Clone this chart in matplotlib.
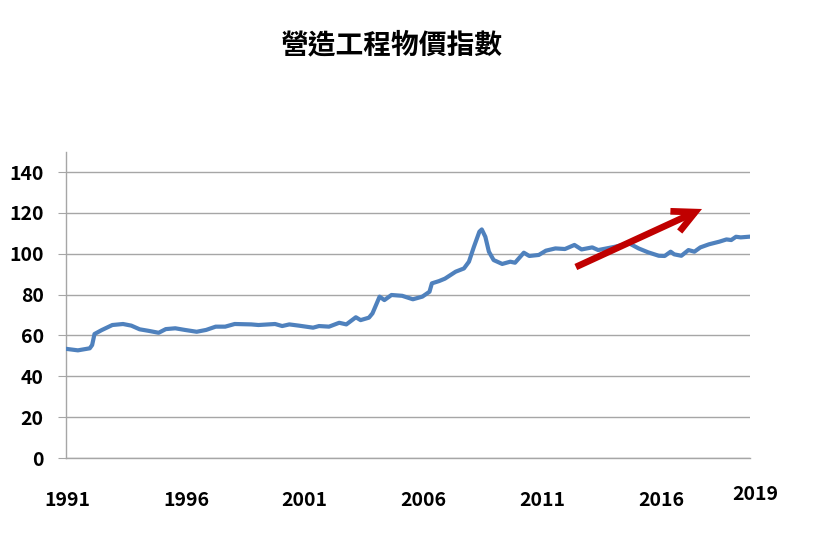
import matplotlib
matplotlib.use("Agg")
import matplotlib.pyplot as plt
import matplotlib.transforms as mtransforms

plt.rcParams['font.family'] = ['Noto Sans CJK TC', 'DejaVu Sans']

# 營造工程物價指數（讀圖估計值）
years = [1991.03, 1991.5, 1992.0, 1992.1, 1992.2, 1992.5, 1992.95, 1993.4, 1993.75,
         1994.1, 1994.5, 1994.9, 1995.2, 1995.6, 1996.0, 1996.5, 1996.9, 1997.3,
         1997.7, 1998.1, 1998.8, 1999.1, 1999.8, 2000.1, 2000.4, 2000.8, 2001.4,
         2001.65, 2002.07, 2002.5, 2002.8, 2003.2, 2003.4, 2003.75, 2003.9, 2004.2,
         2004.4, 2004.7, 2005.15, 2005.6, 2006.0, 2006.3, 2006.4, 2006.7, 2006.95,
         2007.4, 2007.75, 2007.96, 2008.17, 2008.4, 2008.5, 2008.65, 2008.8, 2009.0,
         2009.36, 2009.7, 2009.9, 2010.27, 2010.5, 2010.9, 2011.2, 2011.6, 2012.0,
         2012.4, 2012.7, 2013.15, 2013.4, 2014.1, 2014.7, 2015.1, 2015.5, 2015.95,
         2016.2, 2016.45, 2016.6, 2016.9, 2017.2, 2017.45, 2017.7, 2018.06, 2018.5,
         2018.8, 2019.0, 2019.2, 2019.4, 2019.72]
index = [53.4, 52.7, 53.7, 55.3, 60.7, 62.6, 65.1, 65.6, 64.8,
         63.0, 62.2, 61.3, 63.1, 63.5, 62.7, 61.8, 62.7, 64.3,
         64.3, 65.6, 65.4, 65.1, 65.6, 64.6, 65.4, 64.8, 63.8,
         64.6, 64.3, 66.2, 65.4, 68.9, 67.5, 68.7, 70.8, 79.0,
         77.3, 79.8, 79.4, 77.7, 79.0, 81.4, 85.5, 86.6, 87.8,
         91.2, 92.8, 96.1, 103.4, 110.8, 111.9, 108.3, 101.0, 96.9,
         95.0, 96.1, 95.6, 100.5, 98.9, 99.4, 101.5, 102.6, 102.3,
         104.3, 102.1, 103.1, 101.8, 103.4, 105.1, 102.6, 100.7, 99.0,
         98.9, 101.0, 99.7, 99.0, 101.8, 101.0, 103.1, 104.6, 105.9,
         107.0, 106.7, 108.3, 108.0, 108.3]

tick_years = [1991, 1996, 2001, 2006, 2011, 2016]
y_ticks = [0, 20, 40, 60, 80, 100, 120, 140]

# 紅色趨勢箭頭（起點、終點）
arrow_start = (2012.46, 93.5)
arrow_end = (2017.77, 121.9)

fig = plt.figure(figsize=(8.2, 5.34), dpi=100)
ax = fig.add_axes([66 / 820, 1 - 458 / 534, 684 / 820, 306 / 534])

ax.plot(years, index, color='#4F81BD', lw=3.0, solid_joinstyle='round', zorder=3)

ax.set_xlim(1991.0, 2019.79)
ax.set_ylim(0, 149.8)
ax.set_yticks(y_ticks)
ax.set_xticks([y + 0.05 for y in tick_years])
ax.set_xticklabels([str(y) for y in tick_years])

ax.grid(axis='y', color='#A6A6A6', lw=1.0)
ax.grid(axis='x', visible=False)
ax.set_axisbelow(True)

for s in ['top', 'right']:
    ax.spines[s].set_visible(False)
ax.spines['left'].set_color('#A6A6A6')
ax.spines['bottom'].set_color('#A6A6A6')
ax.spines['left'].set_linewidth(1.0)
ax.spines['bottom'].set_linewidth(1.0)

ax.tick_params(axis='y', length=6, color='#A6A6A6', pad=10, labelsize=14)
ax.tick_params(axis='x', length=0, pad=24, labelsize=14)
for lab in ax.get_xticklabels() + ax.get_yticklabels():
    lab.set_fontweight('bold')

# 最後一個年份標籤放在軸的尾端
trans = mtransforms.blended_transform_factory(ax.transData, ax.transAxes)
ax.text(2020.0, -0.12, '2019', transform=trans, ha='center', va='center',
        fontsize=14, fontweight='bold', clip_on=False)

ax.annotate('', xy=arrow_end, xytext=arrow_start,
            arrowprops=dict(arrowstyle='->,head_length=1.6,head_width=0.8',
                            lw=4.8, color='#C00000', shrinkA=0, shrinkB=0,
                            capstyle='butt', joinstyle='miter'),
            zorder=5)

fig.text(392 / 820, 1 - 45 / 534, '營造工程物價指數', ha='center', va='center',
         fontsize=20, fontweight='bold')

fig.savefig('out.png', dpi=100)
